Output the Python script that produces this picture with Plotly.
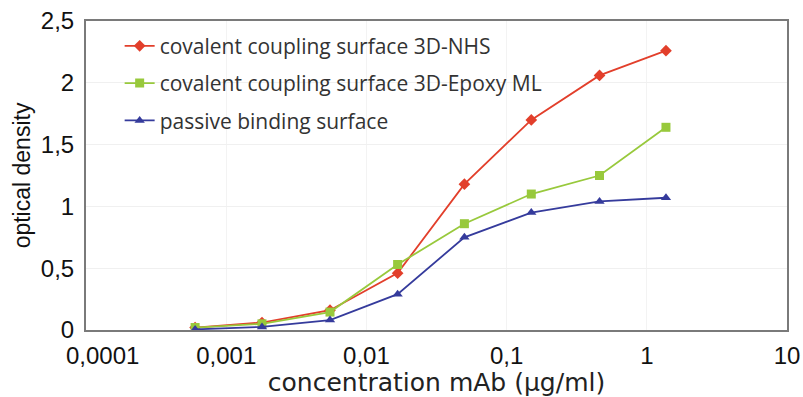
import plotly.graph_objects as go

concentration = [0.0006, 0.0018, 0.0055, 0.0167, 0.05, 0.15, 0.46, 1.37]
nhs = [0.02, 0.06, 0.16, 0.46, 1.18, 1.70, 2.06, 2.26]
epoxy = [0.02, 0.05, 0.145, 0.53, 0.86, 1.10, 1.25, 1.64]
passive = [0.005, 0.025, 0.08, 0.29, 0.75, 0.95, 1.04, 1.07]

names = ["covalent coupling surface 3D-NHS",
         "covalent coupling surface 3D-Epoxy ML",
         "passive binding surface"]

x_tickvals = [0.0001, 0.001, 0.01, 0.1, 1, 10]
x_ticktext = ["\u00a0\u00a0\u00a0\u00a0\u00a00,0001", "0,001", "0,01", "0,1", "1", "10"]
y_tickvals = [0, 0.5, 1, 1.5, 2, 2.5]
y_ticktext = ["0", "0,5", "1", "1,5", "2", "2,5"]

fig = go.Figure()
styles = [
    (nhs, "#e23f2b", "diamond", 9),
    (epoxy, "#98c93c", "square", 9),
    (passive, "#353b9c", "triangle-up", 9),
]
for i, (vals, col, sym, sz) in enumerate(styles):
    fig.add_trace(go.Scatter(
        x=concentration, y=vals, mode="lines+markers", name=names[i],
        legendgroup=f"g{i}",
        line=dict(color=col, width=1.8),
        marker=dict(color=col, symbol=sym, size=sz),
    ))

fig.update_layout(
    width=803, height=397,
    margin=dict(l=86, r=16, t=21, b=67),
    paper_bgcolor="white", plot_bgcolor="white",
    font=dict(family="Liberation Sans, Arial, sans-serif", color="#111"),
    legend=dict(x=0.048, y=0.985, xanchor="left", yanchor="top",
                font=dict(family="Open Sans, sans-serif", size=21, color="#333"),
                bgcolor="rgba(0,0,0,0)", tracegroupgap=7),
    xaxis=dict(type="log", range=[-4, 1], tickvals=x_tickvals, ticktext=x_ticktext,
               tickfont=dict(size=24), showgrid=True, gridcolor="#f3f3f3",
               showline=True, mirror=True, automargin=False, ticklabelstandoff=3,
               linecolor="#7a7a7a", linewidth=2, ticks="", zeroline=False,
               title=dict(text="concentration mAb (µg/ml)",
                          font=dict(family="DejaVu Sans, sans-serif", size=25, color="#222"))),
    yaxis=dict(range=[0, 2.5], tickvals=y_tickvals, ticktext=y_ticktext,
               tickfont=dict(size=24), showgrid=True, gridcolor="#f0f0f0",
               showline=True, mirror=True, automargin=False, ticklabelstandoff=5,
               linecolor="#7a7a7a", linewidth=2,
               ticks="", zeroline=False,
               title=dict(text="optical density", font=dict(size=23), standoff=4)),
)

fig.write_html("out.html", config={"displayModeBar": False},
               post_script="document.body.style.margin='0';")
